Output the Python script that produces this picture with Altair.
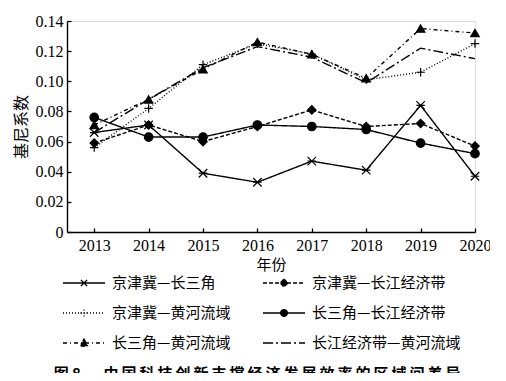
import altair as alt
import pandas as pd

years = [2013, 2014, 2015, 2016, 2017, 2018, 2019, 2020]
series_names = [
    "京津冀—长三角",
    "京津冀—长江经济带",
    "京津冀—黄河流域",
    "长三角—长江经济带",
    "长三角—黄河流域",
    "长江经济带—黄河流域",
]
jjj_csj = [0.066, 0.071, 0.039, 0.033, 0.047, 0.041, 0.084, 0.037]
jjj_cjjjd = [0.059, 0.071, 0.060, 0.070, 0.081, 0.070, 0.072, 0.057]
jjj_hhly = [0.056, 0.082, 0.111, 0.125, 0.118, 0.101, 0.106, 0.125]
csj_cjjjd = [0.076, 0.063, 0.063, 0.071, 0.070, 0.068, 0.059, 0.052]
csj_hhly = [0.071, 0.088, 0.108, 0.126, 0.118, 0.102, 0.135, 0.132]
cjjjd_hhly = [0.066, 0.088, 0.109, 0.123, 0.116, 0.099, 0.122, 0.115]
y_ticks = [0, 0.02, 0.04, 0.06, 0.08, 0.10, 0.12, 0.14]
caption_label = "图 8"
caption_text = "中国科技创新支撑经济发展效率的区域间差异"

thin = "\u2009"
caption = caption_label + "\u3000\u2002" + thin.join(caption_text)

all_values = [jjj_csj, jjj_cjjjd, jjj_hhly, csj_cjjjd, csj_hhly, cjjjd_hhly]
rows = []
for name, vals in zip(series_names, all_values):
    for yr, v in zip(years, vals):
        rows.append({"年份": yr, "系列": name, "基尼系数": v})
df = pd.DataFrame(rows)

dashes = [[1, 0], [4, 2], [1, 2], [1, 0], [4, 3, 1, 3], [10, 3, 2, 3]]
star = "M-1,-1L1,1M-1,1L1,-1M-1,0H1"
plus = "M-1,0H1M0,-1V1"
plot_shapes = [star, "diamond", plus, "circle", "triangle-up", "M0,0"]

# legend symbols: a flat sample line spanning the symbol box, with a small marker in the middle
seg = "M-1,0H1"
legend_shapes = [
    seg + "M-0.15,-0.15L0.15,0.15M-0.15,0.15L0.15,-0.15M-0.15,0H0.15",
    seg + "M0,-0.19L0.19,0L0,0.19L-0.19,0Z",
    seg + "M-0.17,0H0.17M0,-0.17V0.17",
    seg + "M0.16,0A0.16,0.16 0 1,1 -0.16,0A0.16,0.16 0 1,1 0.16,0Z",
    seg + "M0,-0.19L0.19,0.15L-0.19,0.15Z",
    seg,
]

serif = "Liberation Serif"
cjk = "Noto Sans CJK SC"

xscale = alt.Scale(domain=[2012.5, 2020], nice=False, zero=False)
yscale = alt.Scale(domain=[0, 0.14], nice=False, zero=True)

base = alt.Chart(df)

lines = base.mark_line(color="black", strokeWidth=1.4).encode(
    x=alt.X(
        "年份:Q",
        scale=xscale,
        axis=alt.Axis(
            values=years, format="d", tickSize=0, labelPadding=5,
            labelFont=serif, labelFontSize=16, labelColor="black",
            title="年份", titleFont=cjk, titleFontSize=15, titleFontWeight="normal",
            titleColor="black", titlePadding=4, domainColor="black", domainWidth=1.4,
            grid=False, labelFlush=False,
        ),
    ),
    y=alt.Y(
        "基尼系数:Q",
        scale=yscale,
        axis=alt.Axis(
            values=y_ticks, labelExpr="datum.value == 0 ? '0' : format(datum.value, '.2f')",
            tickSize=0, labelPadding=4, labelFont=serif, labelFontSize=16, labelColor="black",
            title="基尼系数", titleFont=cjk, titleFontSize=16, titleFontWeight="normal",
            titleColor="#000000", titlePadding=6, domainColor="black", domainWidth=1.4,
            grid=False,
        ),
    ),
    strokeDash=alt.StrokeDash(
        "系列:N", scale=alt.Scale(domain=series_names, range=dashes), legend=None
    ),
)

points = base.mark_point(
    filled=True, color="black", fill="black", stroke="black", strokeWidth=1.2, opacity=1, size=72
).encode(
    x=alt.X("年份:Q", scale=xscale, axis=None),
    y=alt.Y("基尼系数:Q", scale=yscale, axis=None),
    shape=alt.Shape("系列:N", scale=alt.Scale(domain=series_names, range=plot_shapes), legend=None),
)

leg = alt.Legend(
    title=None, orient="none", legendX=-5, legendY=240, columns=2, direction="horizontal",
    gridAlign="all", columnPadding=-1, rowPadding=-11, symbolSize=1764, symbolOffset=0,
    labelOffset=6, symbolStrokeWidth=1.3, symbolOpacity=1,
    labelFont=cjk, labelFontSize=15, labelColor="black", labelLimit=400,
)

legend_layer = base.mark_point(
    filled=False, color="black", fill="black", stroke="black", strokeWidth=1.3, opacity=0, size=64
).encode(
    x=alt.X("年份:Q", scale=xscale, axis=None),
    y=alt.Y("基尼系数:Q", scale=yscale, axis=None),
    shape=alt.Shape("系列:N", scale=alt.Scale(domain=series_names, range=legend_shapes), legend=leg),
    strokeDash=alt.StrokeDash(
        "系列:N", scale=alt.Scale(domain=series_names, range=dashes), legend=leg
    ),
)

ticks = base.mark_point(opacity=0).encode(
    x=alt.X(
        "年份:Q", scale=xscale,
        axis=alt.Axis(orient="top", offset=-211, values=years, labels=False, domain=False,
                      tickSize=4, tickColor="black", tickWidth=1.3, title=None, grid=False),
    ),
    y=alt.Y(
        "基尼系数:Q", scale=yscale,
        axis=alt.Axis(orient="right", offset=-408, values=y_ticks, labels=False, domain=False,
                      tickSize=4, tickColor="black", tickWidth=1.3, title=None, grid=False),
    ),
)

chart = (
    alt.layer(lines, points, legend_layer, ticks)
    .resolve_scale(shape="independent", strokeDash="independent")
    .resolve_axis(x="independent", y="independent")
    .properties(
        width=408,
        height=211,
        autosize=alt.AutoSizeParams(type="none"),
        padding={"left": 59, "top": 13, "right": 15, "bottom": 141},
        title=alt.TitleParams(
            text=caption, orient="bottom", anchor="middle", font=cjk, fontSize=15,
            fontWeight="bold", color="black", offset=16, dx=-14,
        ),
    )
    .configure_view(stroke=None)
    .configure(background="white")
)

chart.save("out.html", embed_options={"renderer": "svg", "actions": False})
